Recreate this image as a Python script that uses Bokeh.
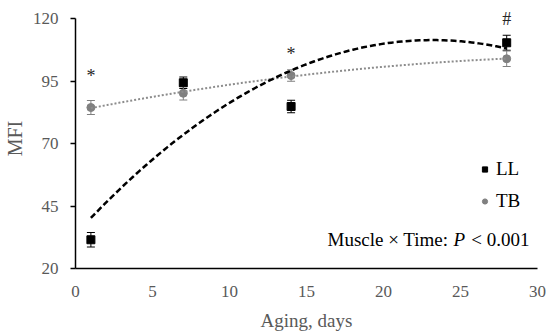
import numpy as np
from bokeh.plotting import figure
from bokeh.models import (ColumnDataSource, Range1d, FixedTicker, Whisker, TeeHead,
                          Legend, LegendItem, Label)
from bokeh.embed import file_html
from bokeh.resources import INLINE

# ---- data ----
days = [1, 7, 14, 28]
ll_mfi = [31.5, 94.3, 84.8, 110.3]
ll_se = [2.9, 2.3, 2.5, 3.0]
tb_mfi = [84.4, 90.1, 97.2, 103.9]
tb_se = [2.8, 2.7, 2.3, 3.1]

x_ticks = [0, 5, 10, 15, 20, 25, 30]
y_ticks = [20, 45, 70, 95, 120]

sig_days = [1, 14, 28]
sig_marks = ["*", "*", "#"]
sig_y = [97, 106, 120]

FONT = "Liberation Serif"
GRAY_TXT = "#595959"
LL_COLOR = "#000000"
TB_COLOR = "#808080"

# frame extends a little above 120 so the "#" mark is not clipped; axis stops at 120
p = figure(frame_width=462, frame_height=260, output_backend="svg", toolbar_location=None,
           x_range=Range1d(0, 30), y_range=Range1d(20, 124),
           min_border_left=67, min_border_right=11, min_border_top=8, min_border_bottom=58)
p.outline_line_color = None
p.grid.grid_line_color = None
p.background_fill_color = "white"

# axes
p.xaxis.ticker = FixedTicker(ticks=x_ticks)
p.yaxis.ticker = FixedTicker(ticks=y_ticks)
p.yaxis.bounds = (20, 120)
for ax in (p.xaxis[0], p.yaxis[0]):
    ax.axis_line_color = "black"
    ax.axis_line_width = 1.5
    ax.major_label_text_font = FONT
    ax.major_label_text_font_size = "17px"
    ax.major_label_text_color = GRAY_TXT
    ax.axis_label_text_font = FONT
    ax.axis_label_text_font_style = "normal"
    ax.axis_label_text_color = GRAY_TXT
    ax.minor_tick_line_color = None
    ax.major_tick_in = 0
p.xaxis.major_tick_out = 0
p.xaxis.major_tick_line_color = None
p.xaxis.major_label_standoff = 17
p.xaxis.axis_label = "Aging, days"
p.xaxis.axis_label_text_font_size = "19px"
p.xaxis.axis_label_standoff = 10
p.yaxis.major_tick_out = 5
p.yaxis.major_tick_line_color = "black"
p.yaxis.major_tick_line_width = 1.5
p.yaxis.major_label_standoff = 12
p.yaxis.axis_label = "MFI"
p.yaxis.axis_label_text_font_size = "20px"
p.yaxis.axis_label_standoff = 4

# trendlines (quadratic fits of the data)
xs = np.linspace(min(days), max(days), 120)
ll_fit = np.polyval(np.polyfit(days, ll_mfi, 2), xs)
tb_fit = np.polyval(np.polyfit(days, tb_mfi, 2), xs)

# error bars
ll_src = ColumnDataSource(dict(x=days, y=ll_mfi,
                               lo=[v - e for v, e in zip(ll_mfi, ll_se)],
                               hi=[v + e for v, e in zip(ll_mfi, ll_se)]))
tb_src = ColumnDataSource(dict(x=days, y=tb_mfi,
                               lo=[v - e for v, e in zip(tb_mfi, tb_se)],
                               hi=[v + e for v, e in zip(tb_mfi, tb_se)]))

for src, col in ((ll_src, LL_COLOR), (tb_src, TB_COLOR)):
    w = Whisker(source=src, base="x", upper="hi", lower="lo", line_color=col, line_width=1,
                upper_head=TeeHead(size=8, line_color=col, line_width=1),
                lower_head=TeeHead(size=8, line_color=col, line_width=1))
    p.add_layout(w)

r_ll = p.scatter("x", "y", source=ll_src, marker="square", size=8,
                 fill_color=LL_COLOR, line_color=LL_COLOR)
r_tb = p.scatter("x", "y", source=tb_src, marker="circle", size=8,
                 fill_color=TB_COLOR, line_color=TB_COLOR)

p.line(xs, tb_fit, line_color="#8c8c8c", line_width=2, line_dash="2 2")
p.line(xs, ll_fit, line_color="black", line_width=2.5, line_dash="6 3")

# significance marks
for d, m, yv in zip(sig_days, sig_marks, sig_y):
    p.add_layout(Label(x=d, y=yv, text=m, text_align="center", text_baseline="alphabetic",
                       text_font=FONT, text_font_size="18px", text_color="#262626"))

# legend
legend = Legend(items=[LegendItem(label="LL", renderers=[r_ll]),
                       LegendItem(label="TB", renderers=[r_tb])],
                location=(403, 56), orientation="vertical",
                glyph_width=13, glyph_height=20, label_height=20, spacing=10,
                label_standoff=5, padding=0, margin=0,
                border_line_color=None, background_fill_alpha=0,
                label_text_font=FONT, label_text_font_size="19px", label_text_color="black")
p.add_layout(legend)

# interaction text
TXT_Y = 29
p.add_layout(Label(x=252, y=TXT_Y, x_units="screen", y_units="screen", text="Muscle × Time:",
                   text_align="left", text_baseline="alphabetic",
                   text_font=FONT, text_font_size="19px", text_color="black"))
p.add_layout(Label(x=378, y=TXT_Y, x_units="screen", y_units="screen", text="P",
                   text_align="left", text_baseline="alphabetic", text_font_style="italic",
                   text_font=FONT, text_font_size="19px", text_color="black"))
p.add_layout(Label(x=454, y=TXT_Y, x_units="screen", y_units="screen", text="< 0.001",
                   text_align="right", text_baseline="alphabetic",
                   text_font=FONT, text_font_size="19px", text_color="black"))

open("out.html", "w").write(file_html(p, INLINE))
